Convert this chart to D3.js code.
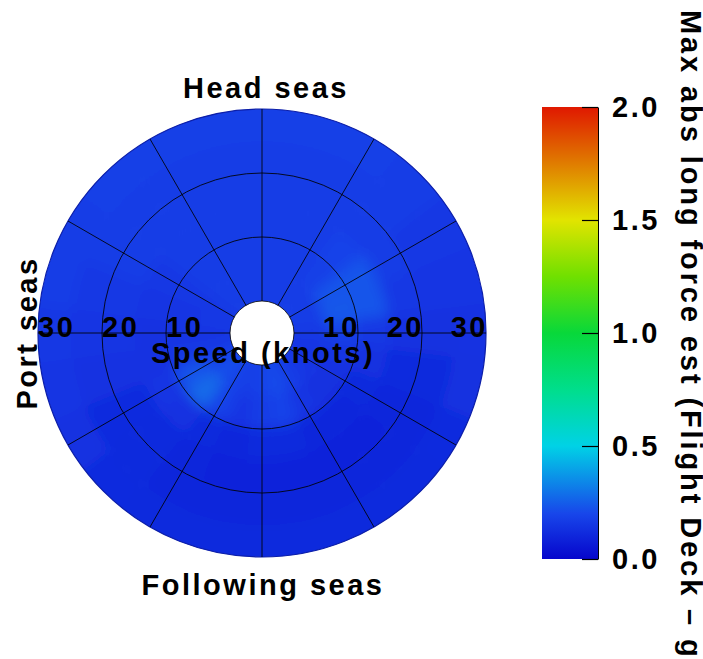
<!DOCTYPE html>
<html>
<head>
<meta charset="utf-8">
<script src="https://cdn.jsdelivr.net/npm/d3@7"></script>
<style>
  html, body { margin: 0; padding: 0; background: #fff; }
  svg { display: block; }
  text { font-family: "Liberation Sans", Arial, sans-serif; font-weight: bold; fill: #000; letter-spacing: 2.5px; }
</style>
</head>
<body>
<svg id="chart" width="703" height="659"></svg>
<script>
// Relative heading of the seas (degrees, clockwise from head seas) at each cell centre
const headings = [0, 15, 30, 45, 60, 75, 90, 105, 120, 135, 150, 165,
                  180, 195, 210, 225, 240, 255, 270, 285, 300, 315, 330, 345];
// Ship speed bins (knots) – centre and extent of each ring of cells
const speedBins = [2.5, 7.5, 12.5, 17.5, 22.5, 27.5];
const speedBinEdges = [0, 5, 10, 15, 20, 25, 30];

// Max abs longitudinal force estimate (g), one array per speed bin, by heading
const force_2_5kn  = [0.17, 0.17, 0.17, 0.17, 0.17, 0.17, 0.16, 0.15, 0.15, 0.16, 0.18, 0.21,
                      0.19, 0.17, 0.19, 0.22, 0.19, 0.16, 0.15, 0.16, 0.16, 0.17, 0.17, 0.17];
const force_7_5kn  = [0.17, 0.17, 0.17, 0.18, 0.23, 0.24, 0.18, 0.15, 0.13, 0.13, 0.15, 0.19,
                      0.17, 0.15, 0.19, 0.28, 0.23, 0.16, 0.15, 0.15, 0.16, 0.17, 0.17, 0.17];
const force_12_5kn = [0.17, 0.17, 0.17, 0.19, 0.23, 0.23, 0.16, 0.13, 0.11, 0.10, 0.10, 0.11,
                      0.11, 0.10, 0.11, 0.14, 0.15, 0.14, 0.14, 0.15, 0.16, 0.17, 0.17, 0.17];
const force_17_5kn = [0.17, 0.17, 0.17, 0.17, 0.17, 0.16, 0.14, 0.12, 0.10, 0.09, 0.09, 0.09,
                      0.09, 0.09, 0.10, 0.11, 0.12, 0.14, 0.15, 0.16, 0.17, 0.17, 0.17, 0.17];
const force_22_5kn = [0.17, 0.17, 0.17, 0.17, 0.16, 0.15, 0.13, 0.11, 0.10, 0.10, 0.10, 0.10,
                      0.10, 0.10, 0.10, 0.11, 0.12, 0.14, 0.15, 0.16, 0.17, 0.17, 0.17, 0.17];
const force_27_5kn = [0.18, 0.18, 0.18, 0.17, 0.16, 0.15, 0.14, 0.13, 0.12, 0.11, 0.11, 0.11,
                      0.11, 0.11, 0.11, 0.12, 0.14, 0.15, 0.16, 0.17, 0.17, 0.18, 0.18, 0.18];
const forceBySpeed = [force_2_5kn, force_7_5kn, force_12_5kn, force_17_5kn, force_22_5kn, force_27_5kn];

// Grid and labels
const spokeHeadings = [0, 30, 60, 90, 120, 150, 180, 210, 240, 270, 300, 330];
const speedRings = [10, 20];
const speedLabels = [10, 20, 30];
const sectorLabels = ["Head seas", "Following seas", "Port seas"];
const speedTitle = "Speed (knots)";

// Colour bar
const colorStops = [0.0, 0.2, 0.5, 0.75, 1.0, 1.25, 1.5, 1.75, 2.0];
const colorHex   = ["#0606cc", "#1846ea", "#00d2e6", "#00de8c", "#08d83a", "#70e000", "#e2e400", "#e07c00", "#e01800"];
const colorTicks = [0.0, 0.5, 1.0, 1.5, 2.0];
const colorTitle = "Max abs long force est (Flight Deck \u2013 g)";

const svg = d3.select("#chart");
svg.append("rect").attr("width", 703).attr("height", 659).attr("fill", "#fff");

const cx = 262, cy = 333;
const rScale = d3.scaleLinear().domain([0, 30]).range([32, 224]);
const aScale = d3.scaleLinear().domain([0, 360]).range([0, 2 * Math.PI]);
const color = d3.scaleLinear().domain(colorStops).range(colorHex)
  .interpolate(d3.interpolateRgb).clamp(true);

const defs = svg.append("defs");
defs.append("clipPath").attr("id", "disk")
  .append("path")
  .attr("transform", `translate(${cx},${cy})`)
  .attr("d", d3.arc()({innerRadius: rScale(0), outerRadius: rScale(30), startAngle: 0, endAngle: 2 * Math.PI}));
defs.append("filter").attr("id", "smooth")
  .attr("filterUnits", "userSpaceOnUse")
  .attr("x", 0).attr("y", 60).attr("width", 530).attr("height", 560)
  .append("feGaussianBlur").attr("stdDeviation", 6.5);

// Field cells (outermost / innermost rings extended so the clip edge stays solid)
const cells = [];
forceBySpeed.forEach((row, i) => {
  row.forEach((v, j) => {
    cells.push({
      v,
      r0: i === 0 ? 0 : rScale(speedBinEdges[i]),
      r1: i === speedBins.length - 1 ? 250 : rScale(speedBinEdges[i + 1]),
      a0: aScale(headings[j] - 7.5),
      a1: aScale(headings[j] + 7.5)
    });
  });
});
const cellArc = d3.arc().innerRadius(d => d.r0).outerRadius(d => d.r1)
  .startAngle(d => d.a0).endAngle(d => d.a1);

const field = svg.append("g").attr("clip-path", "url(#disk)")
  .append("g").attr("filter", "url(#smooth)")
  .append("g").attr("transform", `translate(${cx},${cy})`);
field.selectAll("path").data(cells).join("path")
  .attr("d", cellArc)
  .attr("fill", d => color(d.v))
  .attr("stroke", d => color(d.v))
  .attr("stroke-width", 1);

// Polar grid
const grid = svg.append("g").attr("transform", `translate(${cx},${cy})`)
  .attr("fill", "none");
grid.selectAll("circle.ring").data(speedRings).join("circle")
  .attr("class", "ring").attr("r", d => rScale(d))
  .attr("stroke", "#000").attr("stroke-width", 1).attr("stroke-opacity", 0.85);
grid.append("circle").attr("r", rScale(30))
  .attr("stroke", "#0c1ea8").attr("stroke-width", 1.2);
grid.append("circle").attr("r", rScale(0))
  .attr("stroke", "#000").attr("stroke-width", 1).attr("stroke-opacity", 0.8);
grid.selectAll("line").data(spokeHeadings).join("line")
  .attr("x1", d => rScale(0) * Math.sin(aScale(d)))
  .attr("y1", d => -rScale(0) * Math.cos(aScale(d)))
  .attr("x2", d => rScale(30) * Math.sin(aScale(d)))
  .attr("y2", d => -rScale(30) * Math.cos(aScale(d)))
  .attr("stroke", "#000").attr("stroke-width", 1).attr("stroke-opacity", 0.85);

// Speed labels along the port / starboard axis
const labels = svg.append("g").style("font-size", "29px");
labels.selectAll("text.port").data(speedLabels).join("text")
  .attr("class", "port")
  .attr("x", d => cx - rScale(d)).attr("y", cy + 4)
  .attr("text-anchor", "start").text(d => d);
labels.selectAll("text.stbd").data(speedLabels).join("text")
  .attr("class", "stbd")
  .attr("x", d => cx + rScale(d) + 2).attr("y", cy + 4)
  .attr("text-anchor", "end").text(d => d);
labels.append("text").attr("x", cx + 1).attr("y", cy + 30)
  .attr("text-anchor", "middle").text(speedTitle);

labels.append("text").attr("x", cx + 4).attr("y", 98)
  .attr("text-anchor", "middle").text(sectorLabels[0]);
labels.append("text").attr("x", cx + 1).attr("y", 595)
  .attr("text-anchor", "middle").text(sectorLabels[1]);
labels.append("text")
  .attr("transform", `translate(37,${cy}) rotate(-90)`)
  .attr("text-anchor", "middle").text(sectorLabels[2]);

// Colour bar
const barX = 542, barW = 56;
const yBar = d3.scaleLinear().domain([0, 2]).range([559, 107]);
const grad = defs.append("linearGradient").attr("id", "cbar")
  .attr("x1", 0).attr("y1", 1).attr("x2", 0).attr("y2", 0);
grad.selectAll("stop").data(colorStops).join("stop")
  .attr("offset", d => d / 2)
  .attr("stop-color", (d, i) => colorHex[i]);
svg.append("rect")
  .attr("x", barX).attr("y", yBar(2))
  .attr("width", barW).attr("height", yBar(0) - yBar(2))
  .attr("fill", "url(#cbar)");

const axis = svg.append("g")
  .attr("transform", `translate(${barX + barW},0)`)
  .call(d3.axisRight(yBar).tickValues(colorTicks).tickFormat(d3.format(".1f"))
    .tickSize(-16).tickSizeOuter(0).tickPadding(14));
axis.select(".domain").attr("stroke", "#000").attr("stroke-width", 1);
axis.selectAll(".tick line").attr("stroke", "#000").attr("stroke-width", 1.2);
axis.selectAll(".tick text")
  .style("font-family", "'Liberation Sans', Arial, sans-serif")
  .style("font-weight", "bold").style("font-size", "29px")
  .style("letter-spacing", "2.5px").attr("fill", "#000");

svg.append("text")
  .attr("transform", "translate(681,10) rotate(90)")
  .attr("text-anchor", "start")
  .style("font-size", "29px")
  .style("letter-spacing", "2.9px")
  .text(colorTitle);
</script>
</body>
</html>
